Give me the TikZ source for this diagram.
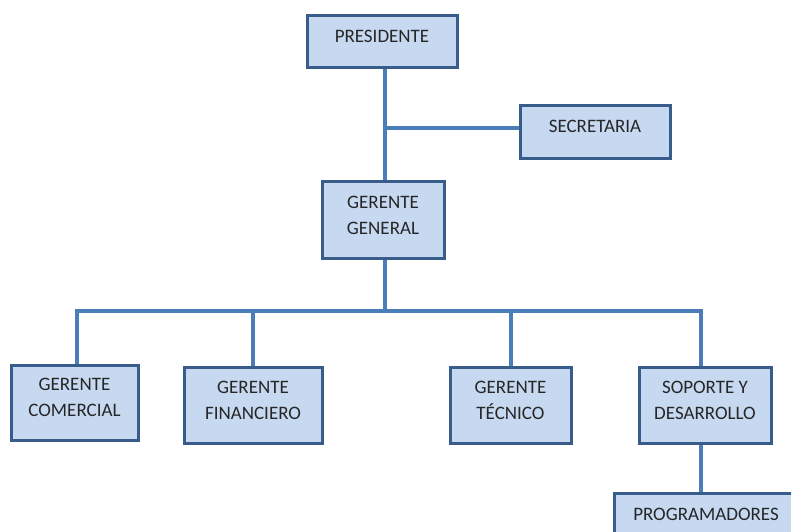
\documentclass[tikz,border=0pt]{standalone}
\usepackage{fontspec}
\setmainfont{Carlito}
\usetikzlibrary{backgrounds}
\definecolor{boxfill}{HTML}{C6D9F1}
\definecolor{boxline}{HTML}{385D8A}
\definecolor{conn}{HTML}{4A7EBB}
\begin{document}
\begin{tikzpicture}[x=1pt,y=-1pt,
  box/.style={draw=boxline,fill=boxfill,line width=3pt,rectangle,inner sep=0pt},
  lbl/.style={align=center,inner sep=0pt,text=black!85,font=\fontsize{19}{26}\selectfont},
  link/.style={draw=conn,line width=4pt,line join=miter}]
\useasboundingbox (0,0) rectangle (791,531);
\coordinate (t1) at (385,128);
\coordinate (t2) at (385,311);
\coordinate (hL) at (77,311);
\coordinate (hR) at (701,311);
\node[box,minimum width=150pt,minimum height=52pt] (pres) at (382,41) {};
\node[box,minimum width=150pt,minimum height=53pt] (sec) at (595,131.5) {};
\node[box,minimum width=122pt,minimum height=77pt] (gg) at (383,219.5) {};
\node[box,minimum width=127pt,minimum height=75pt] (gc) at (74.5,402.5) {};
\node[box,minimum width=138pt,minimum height=76pt] (gf) at (253,405) {};
\node[box,minimum width=121pt,minimum height=76pt] (gt) at (510.5,405) {};
\node[box,minimum width=132pt,minimum height=76pt] (sd) at (705,405) {};
\node[box,minimum width=190pt,minimum height=76pt] (prog) at (709,531) {};
\node[lbl] (presT) at ([yshift=5pt]pres.center) {PRESIDENTE};
\node[lbl] (secT) at ([yshift=5pt]sec.center) {SECRETARIA};
\node[lbl] (ggT) at ([yshift=4pt]gg.center) {GERENTE\\GENERAL};
\node[lbl] (gcT) at ([yshift=5pt]gc.center) {GERENTE\\COMERCIAL};
\node[lbl] (gfT) at ([yshift=5pt]gf.center) {GERENTE\\FINANCIERO};
\node[lbl] (gtT) at ([yshift=5pt]gt.center) {GERENTE\\TÉCNICO};
\node[lbl] (sdT) at ([yshift=5pt]sd.center) {SOPORTE Y\\DESARROLLO};
\node[lbl] (progT) at (706,514) {PROGRAMADORES};
\begin{scope}[on background layer]
\draw[link] (pres.south -| t1) -- (gg.north -| t1);
\draw[link] (t1) -- (sec.west |- t1);
\draw[link] (gg.south -| t2) -- (t2);
\draw[link] (gc.north -| hL) -- (hL) -- (hR) -- (sd.north -| hR);
\draw[link] (t2 -| gf.north) -- (gf.north);
\draw[link] (t2 -| gt.north) -- (gt.north);
\draw[link] (sd.south -| hR) -- (prog.north -| hR);
\end{scope}
\end{tikzpicture}
\end{document}
